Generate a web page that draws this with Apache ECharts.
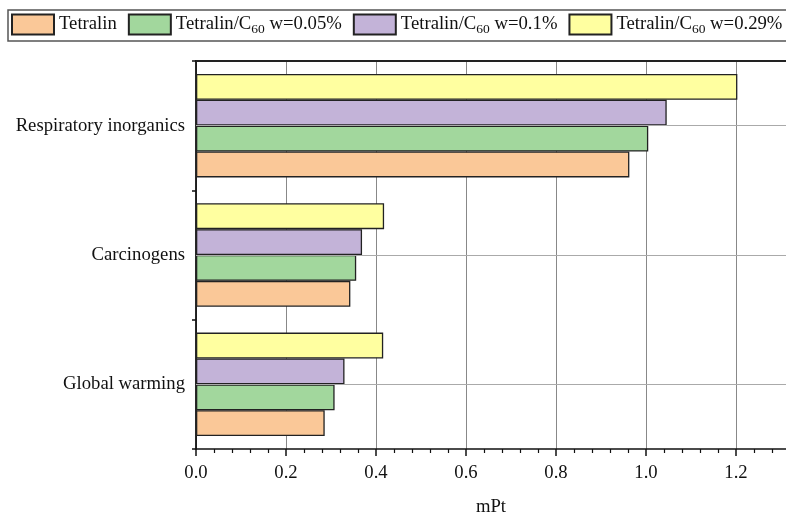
<!DOCTYPE html>
<html>
<head>
<meta charset="utf-8">
<script src="https://cdn.jsdelivr.net/npm/echarts@6/dist/echarts.min.js"></script>
<style>
  html, body { margin: 0; padding: 0; background: #fff; }
  #chart { width: 786px; height: 516px; }
</style>
</head>
<body>
<div id="chart"></div>
<script>
// Impact categories, listed bottom to top along the category axis
const categories = ['Global warming', 'Carcinogens', 'Respiratory inorganics'];

// Single-score results (mPt) per fuel blend
const tetralin    = [0.286, 0.343, 0.963];
const c60w005     = [0.308, 0.356, 1.005];
const c60w01      = [0.330, 0.369, 1.046];
const c60w029     = [0.416, 0.418, 1.203];

const seriesNames = [
  'Tetralin',
  'Tetralin/C60 w=0.05%',
  'Tetralin/C60 w=0.1%',
  'Tetralin/C60 w=0.29%'
];
const seriesValues = [tetralin, c60w005, c60w01, c60w029];
const seriesColors = ['#FAC898', '#A2D79D', '#C3B3D8', '#FFFFA0'];

// Value axis range and major step
const xMin = 0;
const xMax = 1.4;
const xStep = 0.2;
const xTitle = 'mPt';

const FONT = 'Liberation Serif, Times New Roman, serif';
const FS = 18.7;

const GRID_LEFT = 196;
const GRID_WIDTH = 630;

const chart = echarts.init(document.getElementById('chart'), null, { renderer: 'canvas' });

// Bars are added last-to-first so the first blend sits at the bottom of each group
const bars = seriesNames.map((name, i) => ({
  name: name,
  type: 'bar',
  xAxisIndex: 0,
  yAxisIndex: 0,
  data: seriesValues[i],
  barGap: '0%',
  barCategoryGap: '20%',
  itemStyle: {
    color: seriesColors[i],
    borderColor: '#222',
    borderWidth: 1.3
  },
  z: 3
})).reverse();

// Horizontal guide lines through the middle of each category, kept behind the bars
const guides = {
  type: 'line',
  name: '__guides',
  xAxisIndex: 0,
  yAxisIndex: 0,
  data: [],
  z: 1,
  silent: true,
  markLine: {
    silent: true,
    symbol: ['none', 'none'],
    label: { show: false },
    lineStyle: { color: '#aaa', width: 1.2, type: 'solid' },
    data: categories.map(c => ({ yAxis: c }))
  }
};

function legendLabel(name) {
  if (name.indexOf('C60') >= 0) {
    const parts = name.split('C60');
    return '{a|' + parts[0] + 'C}{s|60}{a|' + parts[1] + '}';
  }
  return '{a|' + name + '}';
}

const option = {
  backgroundColor: '#fff',
  animation: false,
  textStyle: { fontFamily: FONT },
  legend: {
    data: seriesNames,
    left: 8,
    top: 10,
    width: 820,
    orient: 'horizontal',
    itemWidth: 42,
    itemHeight: 20,
    itemGap: 11,
    padding: [3, 40, 5, 3],
    borderColor: '#555',
    borderWidth: 1.5,
    icon: 'rect',
    formatter: legendLabel,
    textStyle: {
      fontFamily: FONT,
      color: '#111',
      rich: {
        a: { fontFamily: FONT, fontSize: FS, color: '#111', lineHeight: 24 },
        s: { fontFamily: FONT, fontSize: 13.5, color: '#111', lineHeight: 24, padding: [9, 0, 0, 0] }
      }
    }
  },
  grid: {
    left: GRID_LEFT,
    top: 61,
    width: GRID_WIDTH,
    height: 388,
    outerBoundsMode: 'none',
    containLabel: false
  },
  xAxis: [
    {
      type: 'value',
      position: 'bottom',
      min: xMin,
      max: xMax,
      interval: xStep,
      name: xTitle,
      nameLocation: 'middle',
      nameGap: 49,
      nameTextStyle: {
        fontFamily: FONT,
        fontSize: FS,
        color: '#111',
        padding: [0, 40, 0, 0]
      },
      axisLine: { show: true, onZero: false, lineStyle: { color: '#111', width: 1.5 } },
      axisTick: { show: true, inside: false, length: 7, lineStyle: { color: '#111', width: 1.5 } },
      minorTick: { show: true, splitNumber: 5, length: 4, lineStyle: { color: '#111', width: 1.2 } },
      axisLabel: {
        fontFamily: FONT,
        fontSize: FS,
        color: '#111',
        margin: 15,
        formatter: v => v.toFixed(1)
      },
      splitLine: { show: true, lineStyle: { color: '#888', width: 1 } }
    },
    {
      type: 'value',
      position: 'top',
      min: xMin,
      max: xMax,
      interval: xStep,
      axisLine: { show: true, onZero: false, lineStyle: { color: '#222', width: 1.8 } },
      axisTick: { show: false },
      axisLabel: { show: false },
      splitLine: { show: false }
    }
  ],
  yAxis: [
    {
      type: 'category',
      position: 'left',
      data: categories,
      axisLine: { show: true, onZero: false, lineStyle: { color: '#111', width: 1.8 } },
      axisTick: { show: true, inside: false, length: 4, lineStyle: { color: '#111', width: 1.5 } },
      axisLabel: {
        fontFamily: FONT,
        fontSize: FS,
        color: '#111',
        margin: 11
      },
      splitLine: { show: false }
    },
    {
      // Mirror of the category axis, moved onto the left edge, so its ticks reach into the plot
      type: 'category',
      position: 'right',
      offset: -GRID_WIDTH,
      data: categories,
      axisLine: { show: false },
      axisTick: { show: true, inside: false, length: 4, lineStyle: { color: '#111', width: 1.5 } },
      axisLabel: { show: false },
      splitLine: { show: false }
    }
  ],
  series: [guides].concat(bars)
};

chart.setOption(option);
</script>
</body>
</html>
